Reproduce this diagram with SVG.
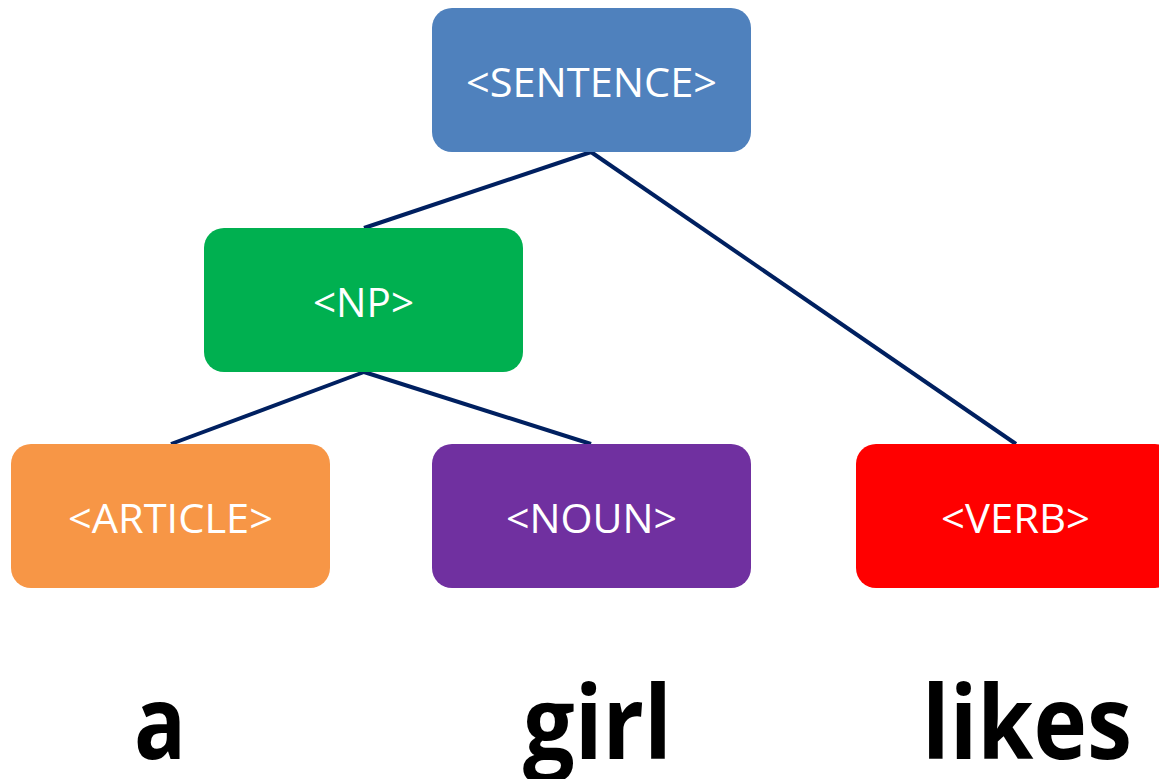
<svg xmlns="http://www.w3.org/2000/svg" width="1159" height="779" viewBox="0 0 1159 779">
  <style>
    .box { stroke: none; }
    .lbl { font-family: "Open Sans", "Liberation Sans", sans-serif; font-size: 41px; fill: #ffffff; }
    .word { font-family: "Open Sans", "Liberation Sans", sans-serif; font-size: 102px; font-weight: bold; fill: #000000; }
    .edge { stroke: #002060; stroke-width: 4; fill: none; }
  </style>
  <rect width="1159" height="779" fill="#ffffff"/>

  <!-- tree edges -->
  <g id="connectors">
    <line class="edge" x1="591" y1="152" x2="364" y2="228"/>
    <line class="edge" x1="591" y1="152" x2="1016" y2="444"/>
    <line class="edge" x1="364" y1="372" x2="171" y2="444"/>
    <line class="edge" x1="364" y1="372" x2="591" y2="444"/>
  </g>

  <g id="sentence">
    <rect class="box" x="432" y="8" width="319" height="144" rx="20" fill="#4F81BD"/>
    <text class="lbl" x="466" y="97" textLength="251" lengthAdjust="spacingAndGlyphs">&lt;SENTENCE&gt;</text>
  </g>

  <g id="np">
    <rect class="box" x="204" y="228" width="319" height="144" rx="20" fill="#00B050"/>
    <text class="lbl" x="313" y="317" textLength="101" lengthAdjust="spacingAndGlyphs">&lt;NP&gt;</text>
  </g>

  <g id="article">
    <rect class="box" x="11" y="444" width="319" height="144" rx="20" fill="#F79646"/>
    <text class="lbl" x="68" y="533" textLength="205" lengthAdjust="spacingAndGlyphs">&lt;ARTICLE&gt;</text>
  </g>

  <g id="noun">
    <rect class="box" x="432" y="444" width="319" height="144" rx="20" fill="#7030A0"/>
    <text class="lbl" x="506" y="533" textLength="171" lengthAdjust="spacingAndGlyphs">&lt;NOUN&gt;</text>
  </g>

  <g id="verb">
    <rect class="box" x="856" y="444" width="319" height="144" rx="20" fill="#FF0000"/>
    <text class="lbl" x="941" y="533" textLength="149" lengthAdjust="spacingAndGlyphs">&lt;VERB&gt;</text>
  </g>

  <!-- surface words -->
  <g id="words">
    <text class="word" x="134" y="759" textLength="52" lengthAdjust="spacingAndGlyphs">a</text>
    <text class="word" x="523" y="759" textLength="149" lengthAdjust="spacingAndGlyphs">girl</text>
    <text class="word" x="922" y="759" textLength="210" lengthAdjust="spacingAndGlyphs">likes</text>
  </g>
</svg>
